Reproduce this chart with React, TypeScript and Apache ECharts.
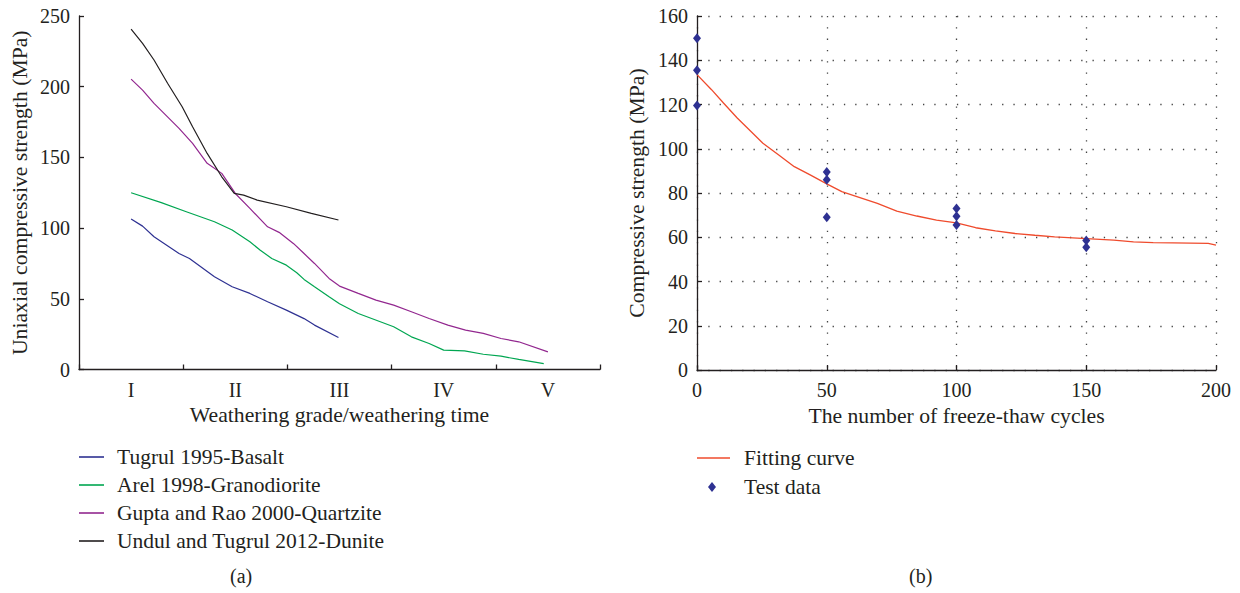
import React, { useEffect, useRef } from "react";
import * as echarts from "echarts";

const grades = ["I", "II", "III", "IV", "V"];

const basaltX = [1, 1.11, 1.22, 1.46, 1.56, 1.8, 1.97, 2.14, 2.31, 2.49, 2.66, 2.76, 2.99];
const basaltY = [106.4, 101.4, 93.9, 82, 78.5, 65.6, 58.5, 53.8, 47.9, 42, 36, 31.4, 22.6];

const granoX = [1, 1.29, 1.53, 1.8, 1.97, 2.14, 2.24, 2.35, 2.49, 2.59, 2.66, 2.76, 2.9, 3, 3.18, 3.52, 3.69, 3.86, 4.0, 4.2, 4.38, 4.55, 4.72, 4.96];
const granoY = [125, 118, 111.6, 104.5, 98.6, 90.3, 84.4, 78.5, 73.8, 68.4, 63.7, 58.5, 51.4, 46.5, 39.6, 30.2, 23.1, 18.4, 13.7, 13.2, 10.8, 9.4, 7.1, 4.2];

const quartzX = [1, 1.11, 1.22, 1.46, 1.59, 1.73, 1.87, 2, 2.14, 2.31, 2.42, 2.56, 2.66, 2.76, 2.9, 3, 3.18, 3.35, 3.52, 3.69, 3.86, 4.04, 4.21, 4.38, 4.55, 4.72, 5.0];
const quartzY = [205.4, 197.6, 188.2, 170.5, 159.9, 145.8, 138.7, 124.5, 113.9, 100.9, 97, 89, 82, 75, 64.4, 59, 53.8, 49.1, 45.5, 40.8, 36.1, 31.4, 27.8, 25.5, 21.9, 19.6, 12.5];

const duniteX = [1, 1.11, 1.22, 1.35, 1.49, 1.59, 1.73, 1.87, 1.99, 2.08, 2.21, 2.49, 2.73, 2.99];
const duniteY = [240.8, 230.7, 218.9, 202.4, 185.8, 171.7, 152.8, 136.3, 124.5, 123.3, 119.8, 115.1, 110.4, 105.7];

const fitX = [0, 5.6, 10.2, 15.5, 20.8, 25.4, 31.5, 37.5, 43.6, 50, 55.8, 61.9, 69.5, 77, 84.7, 92.3, 100, 107.4, 115, 122.6, 130.2, 137.8, 150, 160.6, 168.2, 175.8, 183.4, 197, 200];
const fitY = [133.5, 126.7, 120.7, 113.9, 107.8, 102.5, 97.2, 91.9, 88.2, 84.1, 80.6, 78.3, 75.3, 71.8, 69.6, 67.7, 66.5, 64.3, 62.9, 61.7, 60.9, 60.2, 59.4, 58.7, 57.9, 57.6, 57.5, 57.2, 56.4];

const testX = [0, 0, 0, 50, 50, 50, 100, 100, 100, 150, 150];
const testY = [150, 135.5, 119.5, 89.5, 86, 69, 73, 69.5, 65.5, 58.5, 55.5];

const leftNames = [
  "Tugrul 1995-Basalt",
  "Arel 1998-Granodiorite",
  "Gupta and Rao 2000-Quartzite",
  "Undul and Tugrul 2012-Dunite",
];
const leftColors = ["#2e3192", "#00a651", "#92278f", "#231f20"];
const rightNames = ["Fitting curve", "Test data"];

const zip = (xs: number[], ys: number[]) => xs.map((x, i) => [x, ys[i]]);

const FONT = "Liberation Serif";
const INK = "#231f20";

export default function App() {
  const ref = useRef<HTMLDivElement>(null);
  useEffect(() => {
    if (!ref.current) return;
    const chart = echarts.init(ref.current, null, { renderer: "svg" });
    const axisLine = { show: true, lineStyle: { color: INK, width: 1.3 } };
    const axisTick = { show: true, inside: true, length: 5, lineStyle: { color: INK, width: 1.3 } };
    const label = { color: INK, fontFamily: FONT, fontSize: 20 };
    const nameStyle = { color: INK, fontFamily: FONT, fontSize: 21.7 };
    const legendText = { color: INK, fontFamily: FONT, fontSize: 21.5, lineHeight: 21 };
    const dotted = { show: true, lineStyle: { color: "#444", width: 1.3, type: [1.3, 10] } };
    const leftData = [zip(basaltX, basaltY), zip(granoX, granoY), zip(quartzX, quartzY), zip(duniteX, duniteY)];
    chart.setOption({
      animation: false,
      textStyle: { fontFamily: FONT, color: INK },
      grid: [
        { left: 79, top: 16, width: 521, height: 353.5 },
        { left: 697, top: 16, width: 519, height: 354 },
      ],
      xAxis: [
        {
          type: "category",
          gridIndex: 0,
          data: grades,
          boundaryGap: true,
          axisLine,
          axisTick,
          axisLabel: { ...label, margin: 10 },
          splitLine: { show: false },
          name: "Weathering grade/weathering time",
          nameLocation: "middle",
          nameGap: 34,
          nameTextStyle: nameStyle,
        },
        { type: "value", gridIndex: 0, min: 0.5, max: 5.5, show: false },
        {
          type: "value",
          gridIndex: 1,
          min: 0,
          max: 200,
          interval: 50,
          axisLine,
          axisTick,
          axisLabel: { ...label, margin: 10 },
          splitLine: dotted,
          name: "The number of freeze-thaw cycles",
          nameLocation: "middle",
          nameGap: 34,
          nameTextStyle: nameStyle,
        },
      ],
      yAxis: [
        {
          type: "value",
          gridIndex: 0,
          min: 0,
          max: 250,
          interval: 50,
          axisLine,
          axisTick,
          axisLabel: { ...label, margin: 9 },
          splitLine: { show: false },
          name: "Uniaxial compressive strength (MPa)",
          nameLocation: "middle",
          nameGap: 48,
          nameTextStyle: nameStyle,
        },
        {
          type: "value",
          gridIndex: 1,
          min: 0,
          max: 160,
          interval: 20,
          axisLine,
          axisTick,
          axisLabel: { ...label, margin: 9 },
          splitLine: dotted,
          name: "Compressive strength (MPa)",
          nameLocation: "middle",
          nameGap: 49,
          nameTextStyle: nameStyle,
        },
      ],
      legend: [
        {
          orient: "vertical",
          left: 79,
          top: 446,
          padding: 0,
          itemWidth: 25,
          itemHeight: 1.6,
          itemGap: 6,
          icon: "rect",
          data: leftNames,
          textStyle: { ...legendText, padding: [0, 0, 0, 8] },
        },
        {
          orient: "vertical",
          left: 697,
          top: 447,
          padding: 0,
          itemWidth: 33,
          itemHeight: 1.6,
          icon: "rect",
          data: [rightNames[0]],
          textStyle: { ...legendText, padding: [0, 0, 0, 9] },
        },
        {
          orient: "vertical",
          left: 708,
          top: 476,
          padding: 0,
          itemWidth: 8,
          itemHeight: 10,
          icon: "diamond",
          data: [rightNames[1]],
          textStyle: { ...legendText, padding: [0, 0, 0, 23] },
        },
      ],
      series: [
        ...leftNames.map((n, i) => ({
          name: n,
          type: "line",
          xAxisIndex: 1,
          yAxisIndex: 0,
          data: leftData[i],
          showSymbol: false,
          symbol: "none",
          color: leftColors[i],
          lineStyle: { color: leftColors[i], width: 1.2 },
        })),
        {
          name: rightNames[0],
          type: "line",
          xAxisIndex: 2,
          yAxisIndex: 1,
          data: zip(fitX, fitY),
          showSymbol: false,
          symbol: "none",
          color: "#ef4b2d",
          lineStyle: { color: "#ef4b2d", width: 1.3 },
          z: 2,
        },
        {
          name: rightNames[1],
          type: "scatter",
          xAxisIndex: 2,
          yAxisIndex: 1,
          data: zip(testX, testY),
          symbol: "diamond",
          symbolSize: [8, 10],
          color: "#2e3192",
          itemStyle: { color: "#2e3192", opacity: 1 },
          z: 3,
        },
      ],
      graphic: [
        { type: "text", left: 230, top: 566, style: { text: "(a)", font: `20px ${FONT}`, fill: INK } },
        { type: "text", left: 909, top: 566, style: { text: "(b)", font: `20px ${FONT}`, fill: INK } },
      ],
    });
    return () => chart.dispose();
  }, []);
  return (
    <div
      ref={ref}
      style={{ position: "fixed", left: 0, top: 0, width: 1240, height: 593, background: "#fff" }}
    />
  );
}
